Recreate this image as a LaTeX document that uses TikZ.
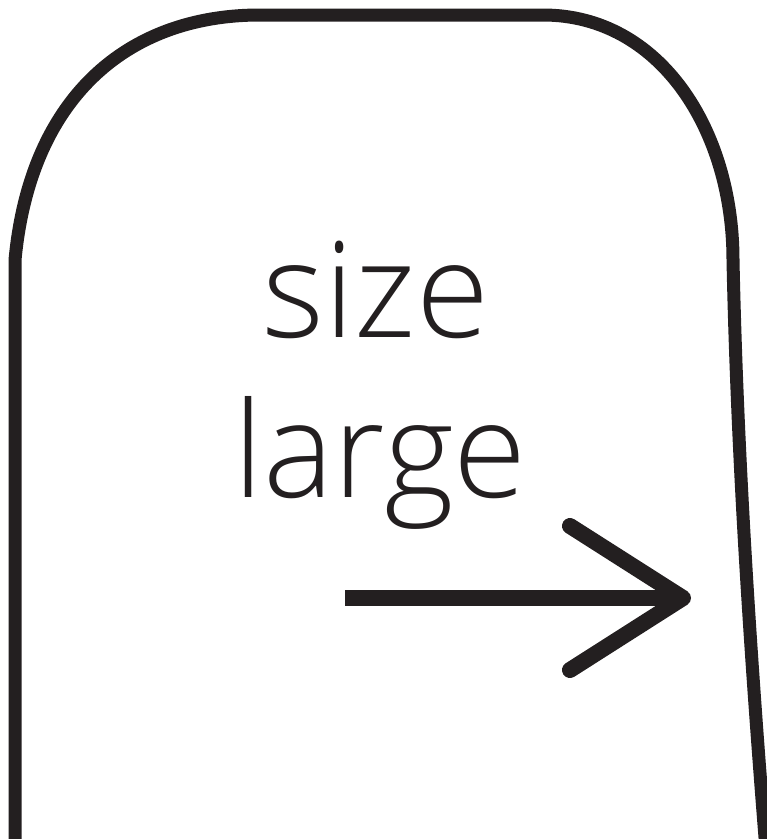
\documentclass[tikz,border=0pt]{standalone}
\usepackage{fontspec}
\setmainfont{Open Sans Light}
\definecolor{ink}{HTML}{231F20}
\begin{document}
\begin{tikzpicture}[x=1pt,y=-1pt,
  outline/.style={draw=ink,line width=13pt},
  arrowline/.style={draw=ink,line width=16pt},
  biglabel/.style={text=ink,font=\fontsize{133}{160}\selectfont,inner sep=0pt,anchor=base}]
\useasboundingbox (0,0) rectangle (767,839);
\draw[outline] (15,850) -- (15,260) .. controls (30,100) and (125,15) .. (260,15) -- (543,15) .. controls (660,15) and (733,130) .. (733,260) .. controls (737,450) and (750,650) .. (766,850);
\node[biglabel] (s1) at (376,337) {size};
\node[biglabel] (s2) at (380,497) {large};
\coordinate (a0) at (345,598);
\coordinate (tip) at (683,598);
\coordinate (u) at (570,526);
\coordinate (d) at (570,670);
\draw[arrowline] (a0) -- (tip);
\draw[arrowline,line cap=round,line join=round] (u) -- (tip) -- (d);
\end{tikzpicture}
\end{document}
